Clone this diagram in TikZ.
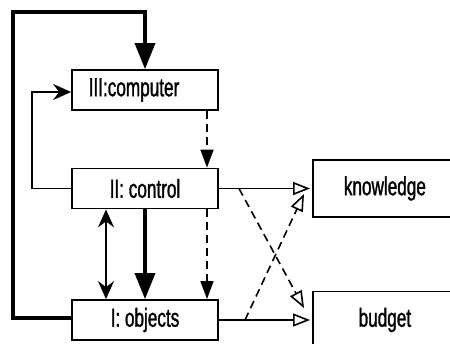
\documentclass[tikz,border=0pt]{standalone}
\usepackage{fontspec}
\setmainfont{Liberation Sans}[FakeStretch=0.66,FakeBold=1.2]
\usetikzlibrary{arrows.meta,positioning,calc}

\tikzset{
	level/.style={draw, line width=1.8pt, minimum width=146pt, minimum height=40pt, inner sep=0pt, font=\fontsize{26}{30}\selectfont},
	goal/.style={draw, line width=1.8pt, minimum width=144pt, minimum height=57pt, inner sep=0pt, font=\fontsize{26}{30}\selectfont},
	thin/.style={line width=1.6pt, -{Stealth[length=18pt,width=16pt,inset=6pt]}},
	heavy/.style={line width=3.6pt, -{Triangle[length=26pt,width=20pt]}},
	dashflow/.style={line width=1.6pt, dash pattern=on 8pt off 5pt, -{Triangle[length=18pt,width=13pt]}},
	hollow/.style={line width=1.6pt, -{Triangle[open,length=17pt,width=13pt,line width=1.6pt]}}
}

\begin{document}
\begin{tikzpicture}[x=1pt,y=-1pt]
	\useasboundingbox (0,0) rectangle (450,343);
	\clip (0,0) rectangle (450,343);
	% levels
	\node[level] (comp) at (145,90) {III:computer\hspace*{22pt}};
	\node[level] (ctrl) at (145,188.5) {II: control};
	\node[level] (obj) at (145,320) {I: objects};
	% goals
	\node[goal, anchor=west] (know) at (312,188.5) {knowledge};
	\node[goal, anchor=west] (budg) at (312,320) {budget};
	% feedback loops
	\draw[heavy] ([yshift=2pt]obj.west) -| (13,12) -| (comp.north);
	\draw[thin] (ctrl.west) -| (32,92) -- ([yshift=-2pt]comp.west);
	% between levels
	\draw[dashflow] ([xshift=62pt]comp.south) -- ([xshift=62pt]ctrl.north);
	\draw[thin, {Stealth[length=18pt,width=16pt,inset=6pt]}-{Stealth[length=18pt,width=16pt,inset=6pt]}] ([xshift=-39pt]ctrl.south) -- ([xshift=-39pt]obj.north);
	\draw[heavy] (ctrl.south) -- (obj.north);
	\draw[dashflow] ([xshift=62pt]ctrl.south) -- ([xshift=62pt]obj.north);
	% to the goals
	\draw[hollow] (ctrl.east) -- ([xshift=-2pt]know.west);
	\draw[hollow] (obj.east) -- ([xshift=-2pt]budg.west);
	\coordinate (c1) at (239,188.5);
	\coordinate (c2) at (245,320);
	\coordinate (t1) at (304,308);
	\coordinate (t2) at (304,194);
	\draw[hollow, dash pattern=on 8pt off 5pt] (c1) -- (t1);
	\draw[hollow, dash pattern=on 8pt off 5pt] (c2) -- (t2);
\end{tikzpicture}
\end{document}
